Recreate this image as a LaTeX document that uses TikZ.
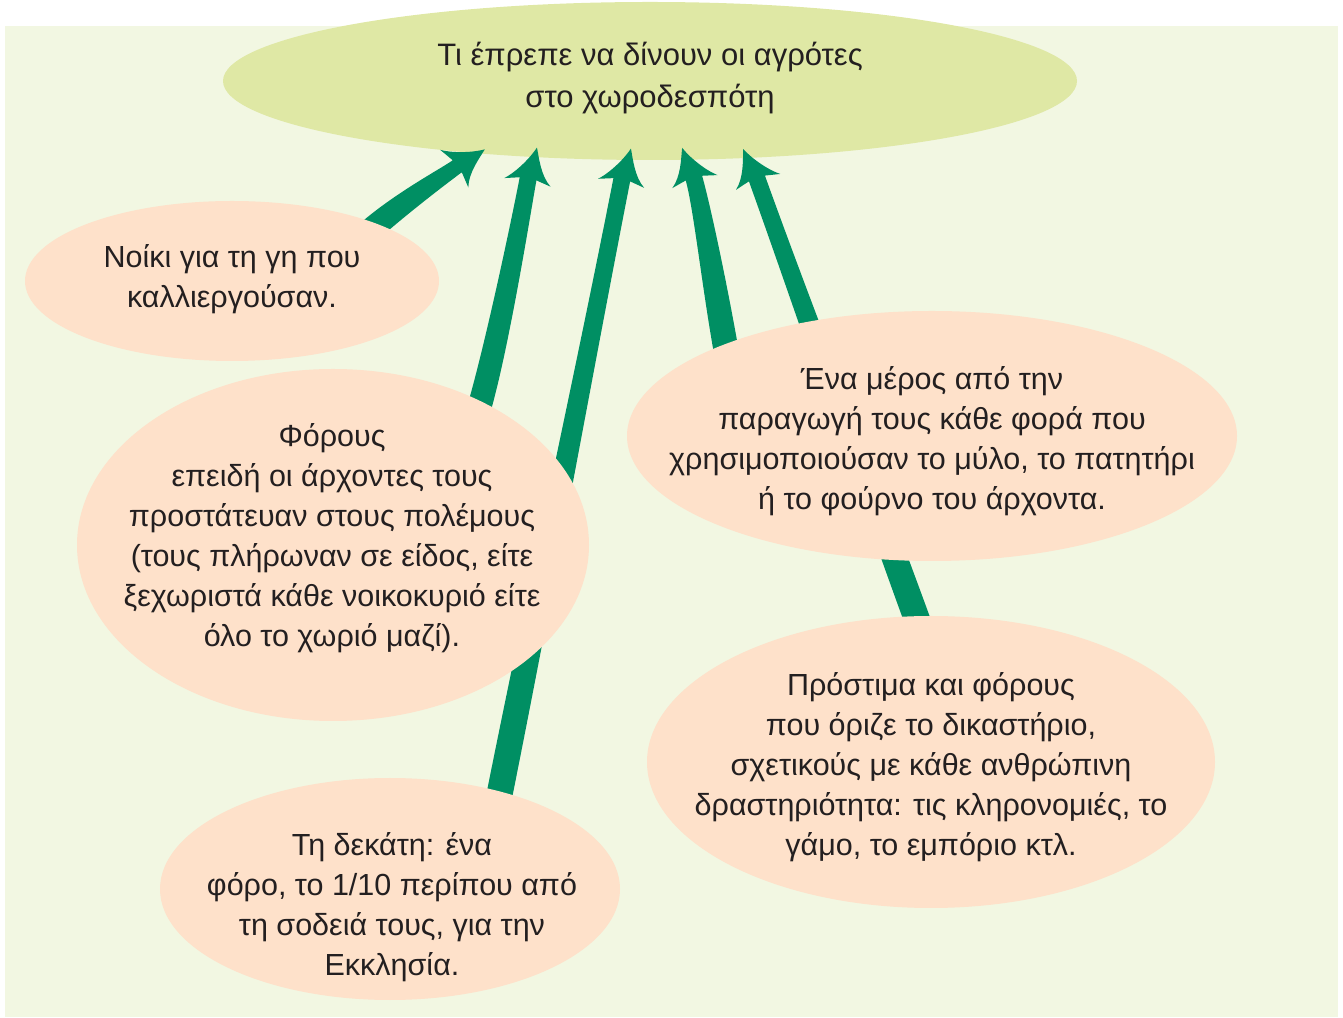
\documentclass[tikz,border=0pt]{standalone}
\usepackage{fontspec}
\setmainfont{Liberation Sans}
\usetikzlibrary{calc,shapes.geometric}
\definecolor{bgc}{HTML}{F2F7E2}
\definecolor{topc}{HTML}{DFE8A5}
\definecolor{peachc}{HTML}{FEE1CA}
\definecolor{arrowc}{HTML}{008F63}
\definecolor{txtc}{HTML}{231F20}
\pgfdeclarelayer{bg}
\pgfdeclarelayer{mid}
\pgfsetlayers{bg,mid,main}
\tikzset{
  topell/.style={ellipse, fill=topc, inner sep=0pt, minimum width=854pt, minimum height=158pt},
  peach/.style={ellipse, fill=peachc, inner sep=0pt},
  txt/.style={align=center, text=txtc, inner sep=0pt, font=\fontsize{30.5}{40}\selectfont},
  titletxt/.style={align=center, text=txtc, inner sep=0pt, font=\fontsize{31}{42}\selectfont},
  pics/ahead/.style={code={
    \fill[arrowc] (#1,0) .. controls (#1-4,-10) and (-12,-27) .. (-23.5,-36) -- (-9,-32.5)
      -- (9,-32.5) -- (23.5,-36) .. controls (12,-27) and (#1+4,-10) .. (#1,0) -- cycle;}}
}
% #1 start, #2 control 1, #3 control 2, #4 tip, #5 half width at base, #6 half width at neck, #7 tip shear
\newcommand{\taperarrow}[7]{%
  \coordinate (tN) at ($(#4)!31pt!(#3)$);
  \coordinate (tSl) at ($(#1)!#5!90:(#2)$);
  \coordinate (tSr) at ($(#1)!#5!-90:(#2)$);
  \coordinate (tNl) at ($(tN)!#6!-90:(#3)$);
  \coordinate (tNr) at ($(tN)!#6!90:(#3)$);
  \fill[arrowc] (tSl) .. controls ($(#2)+(tSl)-(#1)$) and ($(#3)+(tNl)-(tN)$) .. (tNl)
     -- (tNr) .. controls ($(#3)+(tNr)-(tN)$) and ($(#2)+(tSr)-(#1)$) .. (tSr) -- cycle;
  \path let \p1 = ($(#4)-(#3)$), \n1 = {atan2(\y1,\x1)} in (#4) pic[rotate=\n1-90] {ahead=#7};
}
\begin{document}
\begin{tikzpicture}[x=1pt,y=1pt]
\useasboundingbox (0,0) rectangle (1343,1017);
\begin{pgfonlayer}{bg}
  \fill[bgc] (5,0) rectangle (1338,991);
  \node[topell] (top) at (650,936) {};
  \node[titletxt] (topT) at (650,939) {Τι έπρεπε να δίνουν οι αγρότες\\στο χωροδεσπότη};
\end{pgfonlayer}

\node[peach, minimum width=414pt, minimum height=160pt] (noiki) at (232,736) {};
\node[txt] (noikiT) at (232,738) {Νοίκι για τη γη που\\καλλιεργούσαν.};

\node[peach, minimum width=512pt, minimum height=352pt] (foros) at (333,472) {};
\node[txt] (forosT) at (332,479) {Φόρους\\επειδή οι άρχοντες τους\\προστάτευαν στους πολέμους\\(τους πλήρωναν σε είδος, είτε\\ξεχωριστά κάθε νοικοκυριό είτε\\όλο το χωριό μαζί).};

\node[peach, minimum width=460pt, minimum height=222pt] (deka) at (390,128) {};
\node[txt] (dekaT) at (392,110) {Τη δεκάτη: ένα\\φόρο, το 1/10 περίπου από\\τη σοδειά τους, για την\\Εκκλησία.};

\node[peach, minimum width=610pt, minimum height=250pt] (meros) at (932,581) {};
\node[txt] (merosT) at (932,576) {Ένα μέρος από την\\παραγωγή τους κάθε φορά που\\χρησιμοποιούσαν το μύλο, το πατητήρι\\ή το φούρνο του άρχοντα.};

\node[peach, minimum width=568pt, minimum height=292pt] (prost) at (931,255) {};
\node[txt] (prostT) at (931,250) {Πρόστιμα και φόρους\\που όριζε το δικαστήριο,\\σχετικούς με κάθε ανθρώπινη\\δραστηριότητα: τις κληρονομιές, το\\γάμο, το εμπόριο κτλ.};

\begin{pgfonlayer}{mid}
  % arrow 1: noiki -> top
  \coordinate (a1s) at ($(noiki.center)+(133,46)$);
  \coordinate (a1t) at ($(top.center)+(-167,-66)$);
  \coordinate (a1c1) at (402,815);
  \coordinate (a1c2) at (447,843);
  \taperarrow{a1s}{a1c1}{a1c2}{a1t}{12pt}{7.5pt}{3}
  % arrow 2: foros -> top
  \coordinate (a2s) at ($(foros.center)+(145,133)$);
  \coordinate (a2t) at ($(top.center)+(-116,-66)$);
  \coordinate (a2c1) at (498,673);
  \coordinate (a2c2) at (523,811);
  \taperarrow{a2s}{a2c1}{a2c2}{a2t}{12pt}{8.5pt}{3}
  % arrow 3: deka -> top
  \coordinate (a3s) at ($(deka.center)+(108,87)$);
  \coordinate (a3t) at ($(top.center)+(-22,-67)$);
  \coordinate (a3c1) at (541.7,433);
  \coordinate (a3c2) at (585.3,651);
  \taperarrow{a3s}{a3c1}{a3c2}{a3t}{13pt}{8.5pt}{3}
  % arrow 4: meros -> top
  \coordinate (a4s) at ($(meros.center)+(-206,86)$);
  \coordinate (a4t) at ($(top.center)+(35,-66)$);
  \coordinate (a4c1) at (713.8,735.9);
  \coordinate (a4c2) at (701.5,812.6);
  \taperarrow{a4s}{a4c1}{a4c2}{a4t}{12.5pt}{8.5pt}{-3}
  % arrow 5: prost -> top
  \coordinate (a5s) at ($(prost.center)+(-12,137)$);
  \coordinate (a5t) at ($(top.center)+(96,-67)$);
  \coordinate (a5c1) at (861,551);
  \coordinate (a5c2) at (803,710);
  \taperarrow{a5s}{a5c1}{a5c2}{a5t}{13pt}{8.5pt}{-3}
\end{pgfonlayer}
\end{tikzpicture}
\end{document}
